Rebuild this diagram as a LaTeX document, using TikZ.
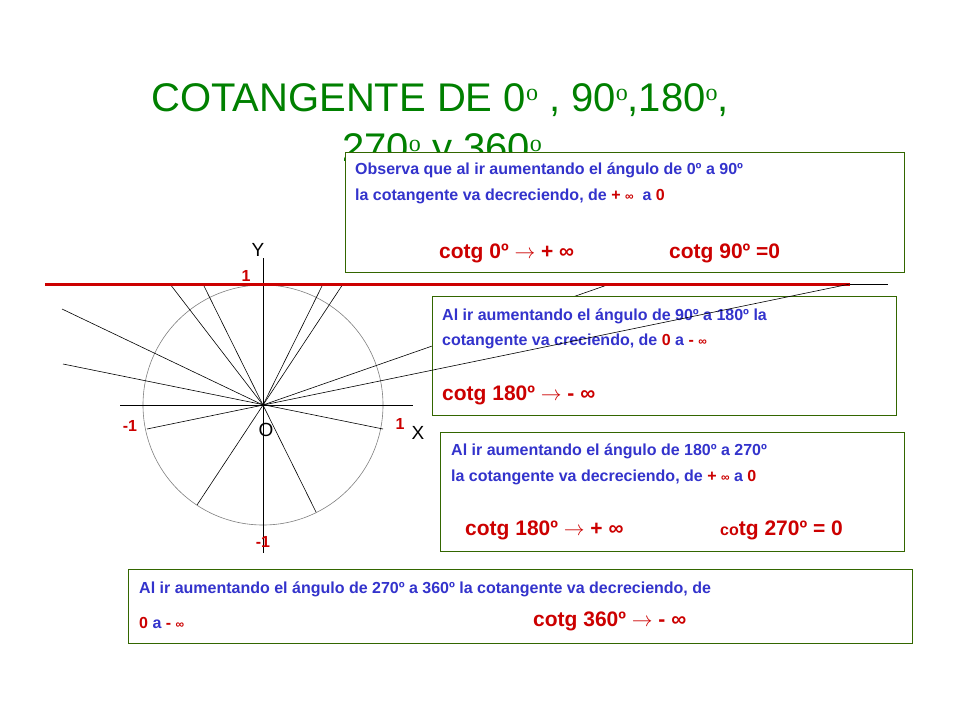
\documentclass[tikz,border=0pt]{standalone}
\usepackage{fontspec}
\setmainfont{Liberation Sans}
\newfontfamily\serifo{Liberation Serif}
\definecolor{tgreen}{HTML}{008000}
\definecolor{tblue}{HTML}{3333CC}
\definecolor{tred}{HTML}{CC0000}
\definecolor{bgreen}{HTML}{336600}
\tikzset{
  px/.style={x=1pt,y=-1pt},
  box/.style={draw=bgreen, fill=white, line width=0.8pt},
  bt/.style={anchor=west, inner sep=0, text=tblue, font=\fontsize{16}{19}\selectfont\bfseries},
  rt/.style={anchor=west, inner sep=0, text=tred, font=\fontsize{21}{24}\selectfont\bfseries},
  ray/.style={black, line width=0.6pt},
  lab/.style={inner sep=0, font=\fontsize{19}{22}\selectfont},
  rlab/.style={inner sep=0, text=tred, font=\fontsize{16}{19}\selectfont\bfseries},
  ttl/.style={inner sep=0, text=tgreen, font=\fontsize{40}{44}\selectfont}
}
\begin{document}
\begin{tikzpicture}[px]
\useasboundingbox (0,0) rectangle (960,720);
\fill[white] (0,0) rectangle (960,720);
% title
\node[ttl] (t1) at (440,100) {COTANGENTE DE 0\raisebox{0.5ex}{\serifo\fontsize{24}{26}\selectfont o}\ , 90\raisebox{0.5ex}{\serifo\fontsize{24}{26}\selectfont o},180\raisebox{0.5ex}{\serifo\fontsize{24}{26}\selectfont o},};
\node[ttl] (t2) at (442,152) {270\raisebox{0.5ex}{\serifo\fontsize{24}{26}\selectfont o} y 360\raisebox{0.5ex}{\serifo\fontsize{24}{26}\selectfont o}};
% geometry
\coordinate (O) at (263,405);
\draw[gray, line width=0.6pt] (O) circle (120);
\draw[ray] (120,405) -- (413,405);
\draw[ray] (263,258) -- (263,553);
\coordinate (a1) at (170,284); \coordinate (a2) at (203,284);
\coordinate (a3) at (323,284); \coordinate (a4) at (343,284);
\coordinate (b1) at (197,505); \coordinate (b2) at (316,512);
\coordinate (c1) at (62,309); \coordinate (c2) at (63,364);
\coordinate (d2) at (383,429); \coordinate (e1) at (610,284);
\coordinate (f1) at (147,429); \coordinate (f2) at (850,284);
\coordinate (g2) at (888,284); \coordinate (r1) at (45,284);
\draw[ray] (O) -- (a1);
\draw[ray] (a2) -- (b2);
\draw[ray] (O) -- (a3);
\draw[ray] (a4) -- (b1);
\draw[ray] (O) -- (c1);
\draw[ray] (c2) -- (d2);
\draw[ray] (O) -- (e1);
\draw[tred, line width=3pt] (r1) -- (f2);
\draw[ray] (f2) -- (g2);
% axis labels
\node[lab] (Y) at (258,250) {Y};
\node[lab] (X) at (418,433) {X};
\node[lab] (Ol) at (266,430) {O};
\node[rlab] (u1) at (246,276) {1};
\node[rlab] (m1) at (130,426) {-1};
\node[rlab] (p1) at (400,424) {1};
\node[rlab] (n1) at (263,542) {-1};
% boxes
\draw[box] (345,152) rectangle (904,272);
\node[bt] (b1a) at (355,170) {Observa que al ir aumentando el ángulo de 0º a 90º};
\node[bt] (b1b) at (355,196) {la cotangente va decreciendo, de \textcolor{tred}{+ {\fontsize{12}{14}\selectfont ∞}} \ a \textcolor{tred}{0}};
\node[rt] (b1c) at (439,253) {cotg 0º $\rightarrow$ + ∞};
\node[rt] (b1d) at (669,253) {cotg 90º =0};
\draw[box] (432,296) rectangle (896,415);
\node[bt] (b2a) at (442,316) {Al ir aumentando el ángulo de 90º a 180º la};
\node[bt] (b2b) at (442,341) {cotangente va creciendo, de \textcolor{tred}{0} a \textcolor{tred}{- {\fontsize{12}{14}\selectfont ∞}}};
\node[rt] (b2c) at (442,395) {cotg 180º $\rightarrow$ - ∞};
\draw[box] (440,432) rectangle (904,551);
\node[bt] (b3a) at (451,451) {Al ir aumentando el ángulo de 180º a 270º};
\node[bt] (b3b) at (451,477) {la cotangente va decreciendo, de \textcolor{tred}{+ {\fontsize{12}{14}\selectfont ∞}} a \textcolor{tred}{0}};
\node[rt] (b3c) at (465,530) {cotg 180º $\rightarrow$ + ∞};
\node[rt] (b3d) at (720,530) {{\fontsize{16}{19}\selectfont co}tg 270º = 0};
\draw[box] (128,569) rectangle (912,643);
\node[bt] (b4a) at (139,589) {Al ir aumentando el ángulo de 270º a 360º la cotangente va decreciendo, de};
\node[bt] (b4b) at (139,623) {\textcolor{tred}{0} a \textcolor{tred}{- {\fontsize{12}{14}\selectfont ∞}}};
\node[rt] (b4c) at (533,621) {cotg 360º $\rightarrow$ - ∞};
% line over box 2
\draw[ray] (f1) -- (f2);
\end{tikzpicture}
\end{document}
